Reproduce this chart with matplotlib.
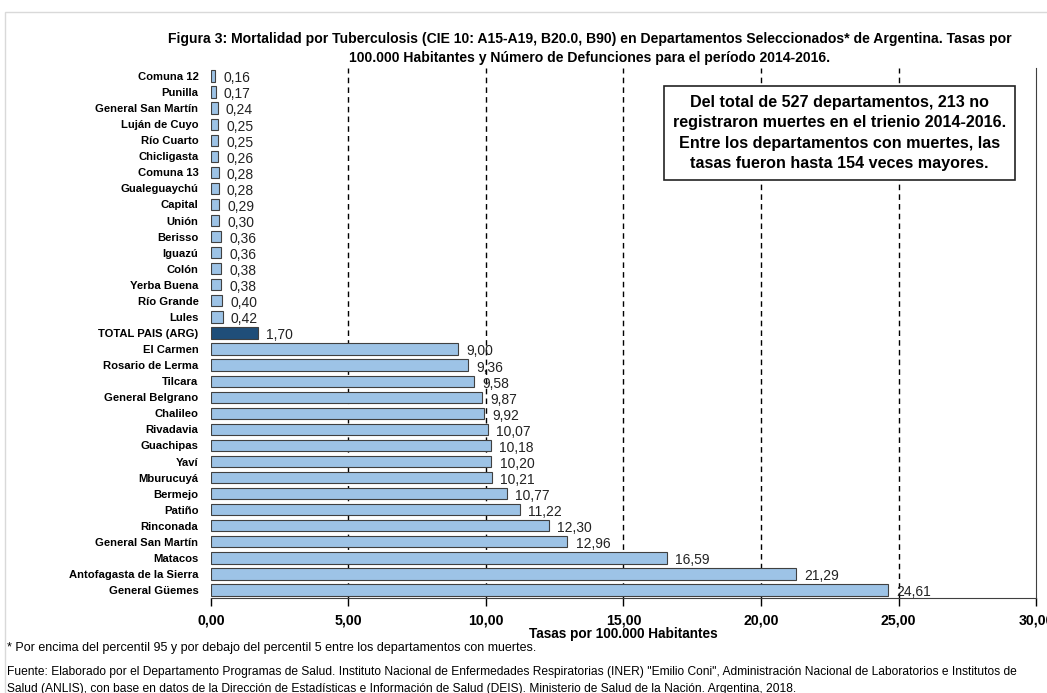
"""Mortalidad por tuberculosis por departamento, Argentina 2014-2016."""

import matplotlib.pyplot as plt
from matplotlib import font_manager
from matplotlib.patches import Rectangle

departamentos = [
    "Comuna 12", "Punilla", "General San Martín", "Luján de Cuyo", "Río Cuarto",
    "Chicligasta", "Comuna 13", "Gualeguaychú", "Capital", "Unión", "Berisso",
    "Iguazú", "Colón", "Yerba Buena", "Río Grande", "Lules", "TOTAL PAIS (ARG)",
    "El Carmen", "Rosario de Lerma", "Tilcara", "General Belgrano", "Chalileo",
    "Rivadavia", "Guachipas", "Yaví", "Mburucuyá", "Bermejo", "Patiño",
    "Rinconada", "General San Martín", "Matacos", "Antofagasta de la Sierra",
    "General Güemes",
]
tasas = [
    0.16, 0.17, 0.24, 0.25, 0.25, 0.26, 0.28, 0.28, 0.29, 0.30, 0.36,
    0.36, 0.38, 0.38, 0.40, 0.42, 1.70,
    9.00, 9.36, 9.58, 9.87, 9.92, 10.07, 10.18, 10.20, 10.21, 10.77, 11.22,
    12.30, 12.96, 16.59, 21.29, 24.61,
]
total_label = "TOTAL PAIS (ARG)"
x_ticks = [0, 5, 10, 15, 20, 25, 30]


def has_font(name):
    try:
        font_manager.findfont(font_manager.FontProperties(family=name), fallback_to_default=False)
        return True
    except ValueError:
        return False


# Calibri-like narrow face if there is one, else Arial metrics a bit smaller
if has_font("Liberation Sans Narrow"):
    narrow, shrink = "Liberation Sans Narrow", 1.0
else:
    narrow, shrink = "Liberation Sans", 0.85
plt.rcParams["font.family"] = [narrow, "DejaVu Sans"]
wide = ["Liberation Sans", "DejaVu Sans"]

fig = plt.figure(figsize=(10.47, 6.93), dpi=100)
fig.patches.append(Rectangle((0.005, -0.1), 1.1, 1.083, transform=fig.transFigure,
                             fill=False, edgecolor="#d9d9d9", linewidth=1.0))
ax = fig.add_axes([0.2015, 0.137, 0.788, 0.765])

colors = ["#1f4e79" if d == total_label else "#9dc3e6" for d in departamentos]
ypos = list(range(len(departamentos)))
ax.barh(ypos, tasas, height=0.7, color=colors, edgecolor="#404040", linewidth=0.8, zorder=3)

for y, v in zip(ypos, tasas):
    ax.text(v + 0.3, y + 0.15, f"{v:.2f}".replace(".", ","), va="center", ha="left",
            fontsize=11.8 * shrink, color="#222222", zorder=4)

ax.set_xlim(0, 30)
ax.set_ylim(len(departamentos) - 0.5, -0.5)
ax.set_yticks(ypos)
ax.set_yticklabels(departamentos, fontsize=9.5 * shrink, fontweight="bold")
ax.tick_params(axis="y", length=0, pad=9)
ax.set_xticks(x_ticks)
ax.set_xticklabels([f"{t:.2f}".replace(".", ",") for t in x_ticks], fontsize=12 * shrink,
                   fontweight="bold")
ax.tick_params(axis="x", direction="out", length=6, pad=5, width=1)
ax.set_xlabel("Tasas por 100.000 Habitantes", fontsize=11.5 * shrink, fontweight="bold",
              labelpad=0)

for t in x_ticks[1:-1]:
    ax.axvline(t, color="black", linestyle=(0, (4, 3)), linewidth=1, zorder=1)

for s in ["top", "left"]:
    ax.spines[s].set_visible(False)
ax.spines["right"].set_color("#404040")
ax.spines["bottom"].set_color("#404040")

fig.text(0.5635, 0.930,
         "Figura 3: Mortalidad por Tuberculosis (CIE 10: A15-A19, B20.0, B90) en Departamentos "
         "Seleccionados* de Argentina. Tasas por\n100.000 Habitantes y Número de Defunciones "
         "para el período 2014-2016.",
         ha="center", va="center", fontsize=11.9 * shrink, fontweight="bold", linespacing=1.4)

ax.text(0.762, 0.877,
        "Del total de 527 departamentos, 213 no\nregistraron muertes en el trienio 2014-2016.\n"
        "Entre los departamentos con muertes, las\ntasas fueron hasta 154 veces mayores.",
        transform=ax.transAxes, ha="center", va="center", fontsize=11.6, fontweight="bold",
        family=wide, linespacing=1.45, zorder=5,
        bbox=dict(boxstyle="square,pad=0.55", facecolor="white", edgecolor="#222222", linewidth=1.2))

fig.text(0.007, 0.065, "* Por encima del percentil 95 y por debajo del percentil 5 entre los "
         "departamentos con muertes.", fontsize=10.6 * shrink, va="center")
fig.text(0.007, 0.018,
         "Fuente: Elaborado por el Departamento Programas de Salud. Instituto Nacional de Enfermedades "
         "Respiratorias (INER) \"Emilio Coni\", Administración Nacional de Laboratorios e Institutos de\n"
         "Salud (ANLIS), con base en datos de la Dirección de Estadísticas e Información de Salud (DEIS). "
         "Ministerio de Salud de la Nación. Argentina, 2018.",
         fontsize=10.2 * shrink, va="center", linespacing=1.55)

fig.savefig("out.png", dpi=100)
